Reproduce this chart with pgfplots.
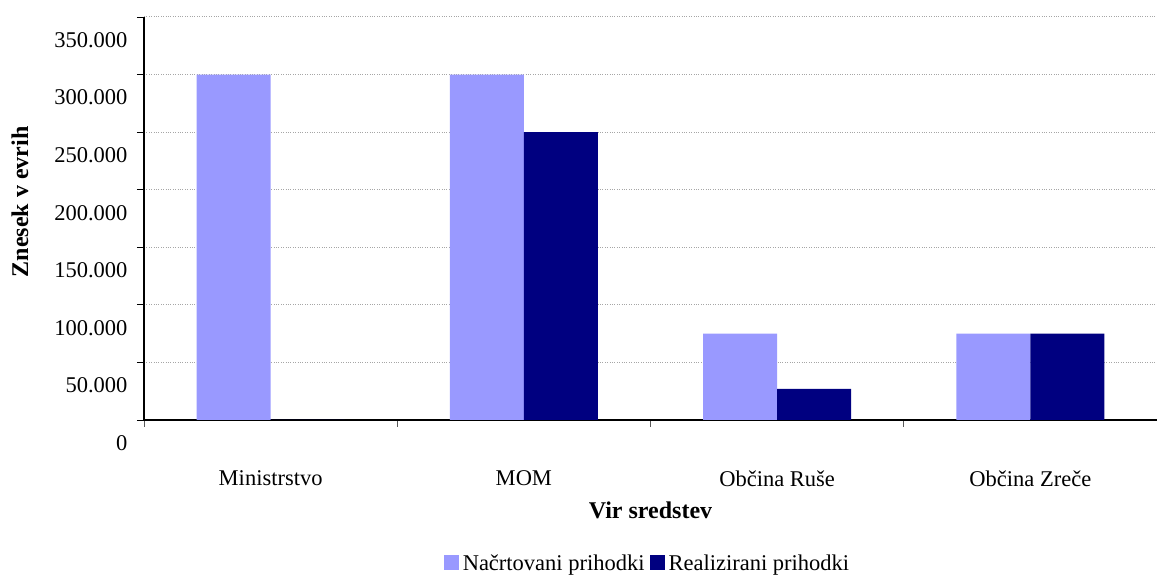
\documentclass[border=0pt]{standalone}
\usepackage{pgfplots}
\pgfplotsset{compat=1.18}
\usepackage{fontspec}
\setmainfont{Liberation Serif}
\definecolor{lightbar}{HTML}{9999FF}
\definecolor{darkbar}{HTML}{000080}
\begin{document}
\begin{tikzpicture}
\path[use as bounding box] (0pt,0pt) rectangle (1157pt,575pt);
\begin{axis}[
  at={(144pt,155pt)}, anchor=south west,
  scale only axis, width=1013pt, height=403pt,
  font=\fontsize{22.5}{26}\selectfont,
  xmin=0, xmax=4, ymin=0, ymax=350000,
  axis lines*=left,
  axis line style={black, line width=1.2pt},
  ybar=0pt, bar width=74pt,
  xtick={0,1,2,3},
  xticklabels={},
  xtick style={draw=gray!70!black, line width=0.8pt},
  extra x ticks={0.5,1.5,2.5,3.5},
  extra x tick labels={Ministrstvo, MOM, Občina Ruše, Občina Zreče},
  extra x tick style={major tick length=0pt, tick style={draw=none}},
  xticklabel style={yshift=-47pt},
  ytick={0,50000,100000,150000,200000,250000,300000,350000},
  yticklabels={0,50.000,100.000,150.000,200.000,250.000,300.000,350.000},
  yticklabel style={yshift=-23pt, xshift=-6pt},
  scaled y ticks=false,
  tick align=outside, major tick length=7pt,
  ytick style={draw=black, line width=0.8pt},
  ymajorgrids, grid style={gray!70, dotted, line width=1pt},
  ylabel={\bfseries\fontsize{24}{28}\selectfont Znesek v evrih},
  ylabel style={at={(axis description cs:-0.1224,0.541)}, anchor=center, rotate=0},
  xlabel={\bfseries\fontsize{24}{28}\selectfont Vir sredstev},
  xlabel style={at={(axis description cs:0.5,-0.223)}, anchor=center},
  legend style={at={(axis description cs:0.497,-0.355)}, anchor=center, draw=none, legend columns=2, column sep=2pt, /tikz/every even column/.append style={column sep=3pt}},
  legend image code/.code={\fill[#1] (0pt,-7pt) rectangle (15pt,8pt);},
]
\addplot[fill=lightbar, draw=none] coordinates {(0.5,300000) (1.5,300000) (2.5,75000) (3.5,75000)};
\addplot[fill=darkbar, draw=none] coordinates {(0.5,0) (1.5,250000) (2.5,27000) (3.5,75000)};
\legend{Načrtovani prihodki, Realizirani prihodki}
\end{axis}
\end{tikzpicture}
\end{document}
